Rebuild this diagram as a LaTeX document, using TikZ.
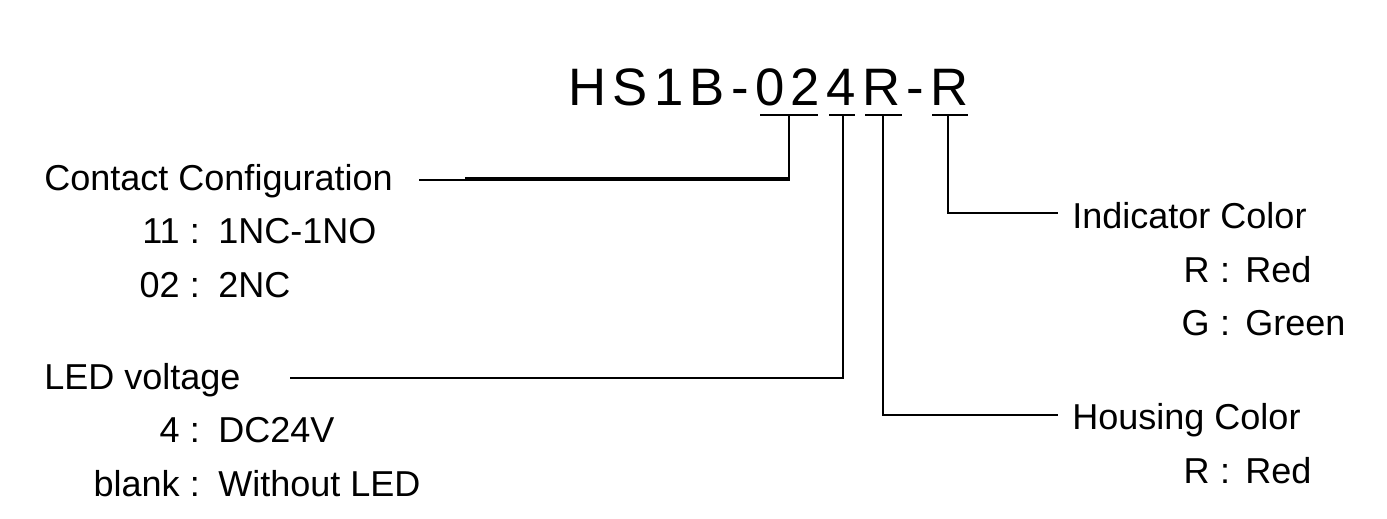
\documentclass[tikz,border=0pt]{standalone}
\usepackage{fontspec}
\setmainfont{Liberation Sans}
\newfontfamily\titlefont[LetterSpace=12]{Liberation Sans}
\begin{document}
\begin{tikzpicture}[x=0.02cm,y=-0.02cm,
  lbl/.style={inner sep=0pt,font=\fontsize{20.5pt}{24pt}\selectfont},
  ln/.style={line width=1.4pt}]
\useasboundingbox (0,0) rectangle (1387,518);
\node[lbl,anchor=base west,font=\titlefont\fontsize{30pt}{34pt}\selectfont] (title) at (568,105) {HS1B-024R-R};
% bars
\draw[ln] (760,115) -- (818,115);
\draw[ln] (829,115) -- (855,115);
\draw[ln] (865,115) -- (902,115);
\draw[ln] (932,115) -- (968,115);
% left texts
\node[lbl,anchor=base west] (cc) at (44,190) {Contact Configuration};
\node[lbl,anchor=base east] (a1) at (180,243) {11};
\node[lbl,anchor=base] (c1) at (195,243) {:};
\node[lbl,anchor=base west] (b1) at (218,243) {1NC-1NO};
\node[lbl,anchor=base east] (a2) at (180,297) {02};
\node[lbl,anchor=base] (c2) at (195,297) {:};
\node[lbl,anchor=base west] (b2) at (218,297) {2NC};
\node[lbl,anchor=base west] (led) at (44,389) {LED voltage};
\node[lbl,anchor=base east] (a3) at (180,442) {4};
\node[lbl,anchor=base] (c3) at (195,442) {:};
\node[lbl,anchor=base west] (b3) at (218,442) {DC24V};
\node[lbl,anchor=base east] (a4) at (180,496) {blank};
\node[lbl,anchor=base] (c4) at (195,496) {:};
\node[lbl,anchor=base west] (b4) at (218,496) {Without LED};
% right texts
\node[lbl,anchor=base west] (ic) at (1072,228) {Indicator Color};
\node[lbl,anchor=base east] (a5) at (1210,282) {R};
\node[lbl,anchor=base] (c5) at (1225,282) {:};
\node[lbl,anchor=base west] (b5) at (1245,282) {Red};
\node[lbl,anchor=base east] (a6) at (1210,335) {G};
\node[lbl,anchor=base] (c6) at (1225,335) {:};
\node[lbl,anchor=base west] (b6) at (1245,335) {Green};
\node[lbl,anchor=base west] (hc) at (1072,429) {Housing Color};
\node[lbl,anchor=base east] (a7) at (1210,483) {R};
\node[lbl,anchor=base] (c7) at (1225,483) {:};
\node[lbl,anchor=base west] (b7) at (1245,483) {Red};
% connectors
\coordinate (p1) at (789,115);
\coordinate (p2) at (843,115);
\coordinate (p3) at (883,115);
\coordinate (p4) at (948,115);
\draw[ln] (p1) |- ([xshift=15pt,yshift=-1pt]cc.east |- 0,178);
\draw[ln] (p1) -- (789,178) -- (465,178);
\draw[ln] (p2) -- (843,378) -- (290,378);
\draw[ln] (p3) -- (883,415) -- (1058,415);
\draw[ln] (p4) -- (948,213) -- (1058,213);
\end{tikzpicture}
\end{document}
